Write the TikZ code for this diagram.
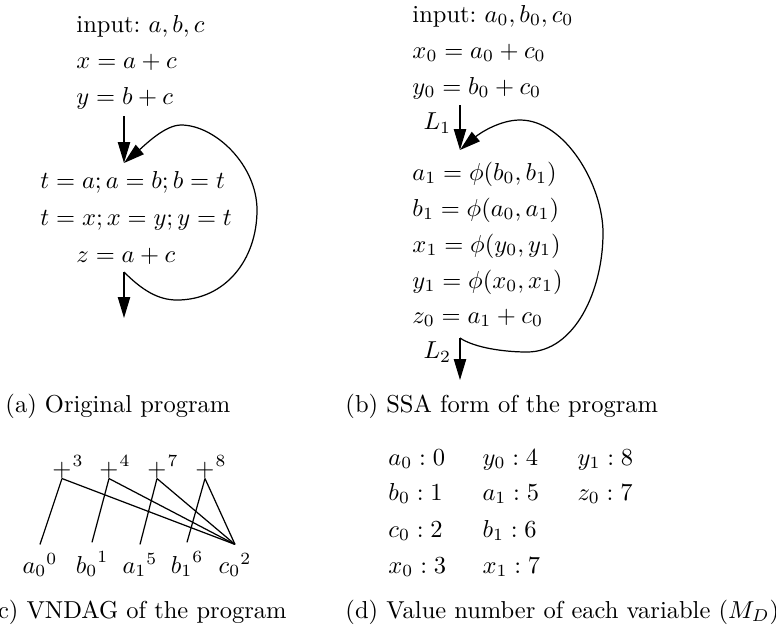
\documentclass[tikz,border=0pt]{standalone}
\usepackage{amsmath}
\usetikzlibrary{arrows.meta}
\tikzset{
  stmt/.style={anchor=base west, inner sep=0pt},
  capt/.style={anchor=base west, inner sep=0pt},
  flow/.style={-{Triangle[length=8.5pt,width=5pt]}, line width=0.5pt},
  opnode/.style={anchor=base, inner sep=0pt},
  leaf/.style={anchor=base},
  vnum/.style={font=\scriptsize, inner sep=0pt, anchor=south west, yshift=1.2pt},
  dagline/.style={line width=0.5pt},
}

\begin{document}
\begin{tikzpicture}[x=0.4082pt, y=-0.4082pt]
  \useasboundingbox (0,0) rectangle (776,630);
  % (a) original program
  \foreach \i/\x/\y/\txt in
     {1/76/32/{input:\ $a, b, c$},
      2/76/68/{$x = a + c$},
      3/76/104/{$y = b + c$},
      4/40/188/{$t = a; a = b; b = t$},
      5/40/225/{$t = x; x = y; y = t$},
      6/76/262/{$z = a + c$}}{
     \node[stmt] (a\i) at (\x,\y) {\txt};
  }
  \coordinate (aTop)  at (124,116);
  \coordinate (aLoop) at (124,163);
  \coordinate (aExit) at (124,272);
  \coordinate (aOut)  at (124,318);
  \draw[flow] (aTop) -- (aLoop);
  \draw[flow] (aExit) -- (aOut);
  \draw[flow] (aExit) .. controls (142,290) and (158,300) .. (177,300)
                      .. controls (225,300) and (257,260) .. (257,210)
                      .. controls (257,165) and (215,125) .. (181,125)
                      .. controls (165,125) and (145,145) .. (aLoop);
  \node[capt] (capa) at (5,412) {(a) Original program};

  % (b) SSA form
  \foreach \i/\y/\txt in
     {1/22/{input:\ $a_0, b_0, c_0$},
      2/58/{$x_0 = a_0 + c_0$},
      3/94/{$y_0 = b_0 + c_0$},
      4/180/{$a_1 = \phi(b_0, b_1)$},
      5/216/{$b_1 = \phi(a_0, a_1)$},
      6/252/{$x_1 = \phi(y_0, y_1)$},
      7/288/{$y_1 = \phi(x_0, x_1)$},
      8/323/{$z_0 = a_1 + c_0$}}{
     \node[stmt] (b\i) at (412,\y) {\txt};
  }
  \coordinate (bTop)  at (460,105);
  \coordinate (bLoop) at (460,150);
  \coordinate (bExit) at (460,338);
  \coordinate (bOut)  at (460,380);
  \draw[flow] (bTop) -- node[left, pos=0.4] (l1) {$L_1$} (bLoop);
  \draw[flow] (bExit) -- node[left, pos=0.33] (l2) {$L_2$} (bOut);
  \draw[flow] (bExit) .. controls (475,348) and (505,352) .. (527,352)
                      .. controls (575,352) and (603,290) .. (603,233)
                      .. controls (603,185) and (565,120) .. (520,120)
                      .. controls (500,120) and (480,133) .. (bLoop);
  \node[capt] (capb) at (345,412) {(b) SSA form of the program};

  % (c) VNDAG
  \foreach \n/\x in {3/62, 4/109, 7/157, 8/205}{
     \node[opnode, label={[vnum]east:\n}] (p\n) at (\x,476) {$+$};
  }
  \foreach \v/\x/\txt in
     {a0/40/{{a_0}^0}, b0/92/{{b_0}^1}, a1/140/{{a_1}^5},
      b1/187/{{b_1}^6}, c0/235/{{c_0}^2}}{
     \node[leaf] (l\v) at (\x,573) {$\txt$};
  }
  \foreach \s/\t in {p3/la0, p3/lc0, p4/lb0, p4/lc0,
                     p7/la1, p7/lc0, p8/lb1, p8/lc0}{
     \draw[dagline] (\s.south) -- (\t.north);
  }
  \node[capt, anchor=base east] (capc) at (287,618) {(c) VNDAG of the program};

  % (d) value numbers
  \foreach \x/\y/\txt [count=\k] in
     {388/465/{a_0 : 0}, 388/500/{b_0 : 1}, 388/537/{c_0 : 2}, 388/573/{x_0 : 3},
      482/465/{y_0 : 4}, 482/500/{a_1 : 5}, 482/537/{b_1 : 6}, 482/573/{x_1 : 7},
      577/465/{y_1 : 8}, 577/500/{z_0 : 7}}{
     \node[stmt] (d\k) at (\x,\y) {$\txt$};
  }
  \node[capt] (capd) at (345,618) {(d) Value number of each variable ($M_D$)};
\end{tikzpicture}
\end{document}
